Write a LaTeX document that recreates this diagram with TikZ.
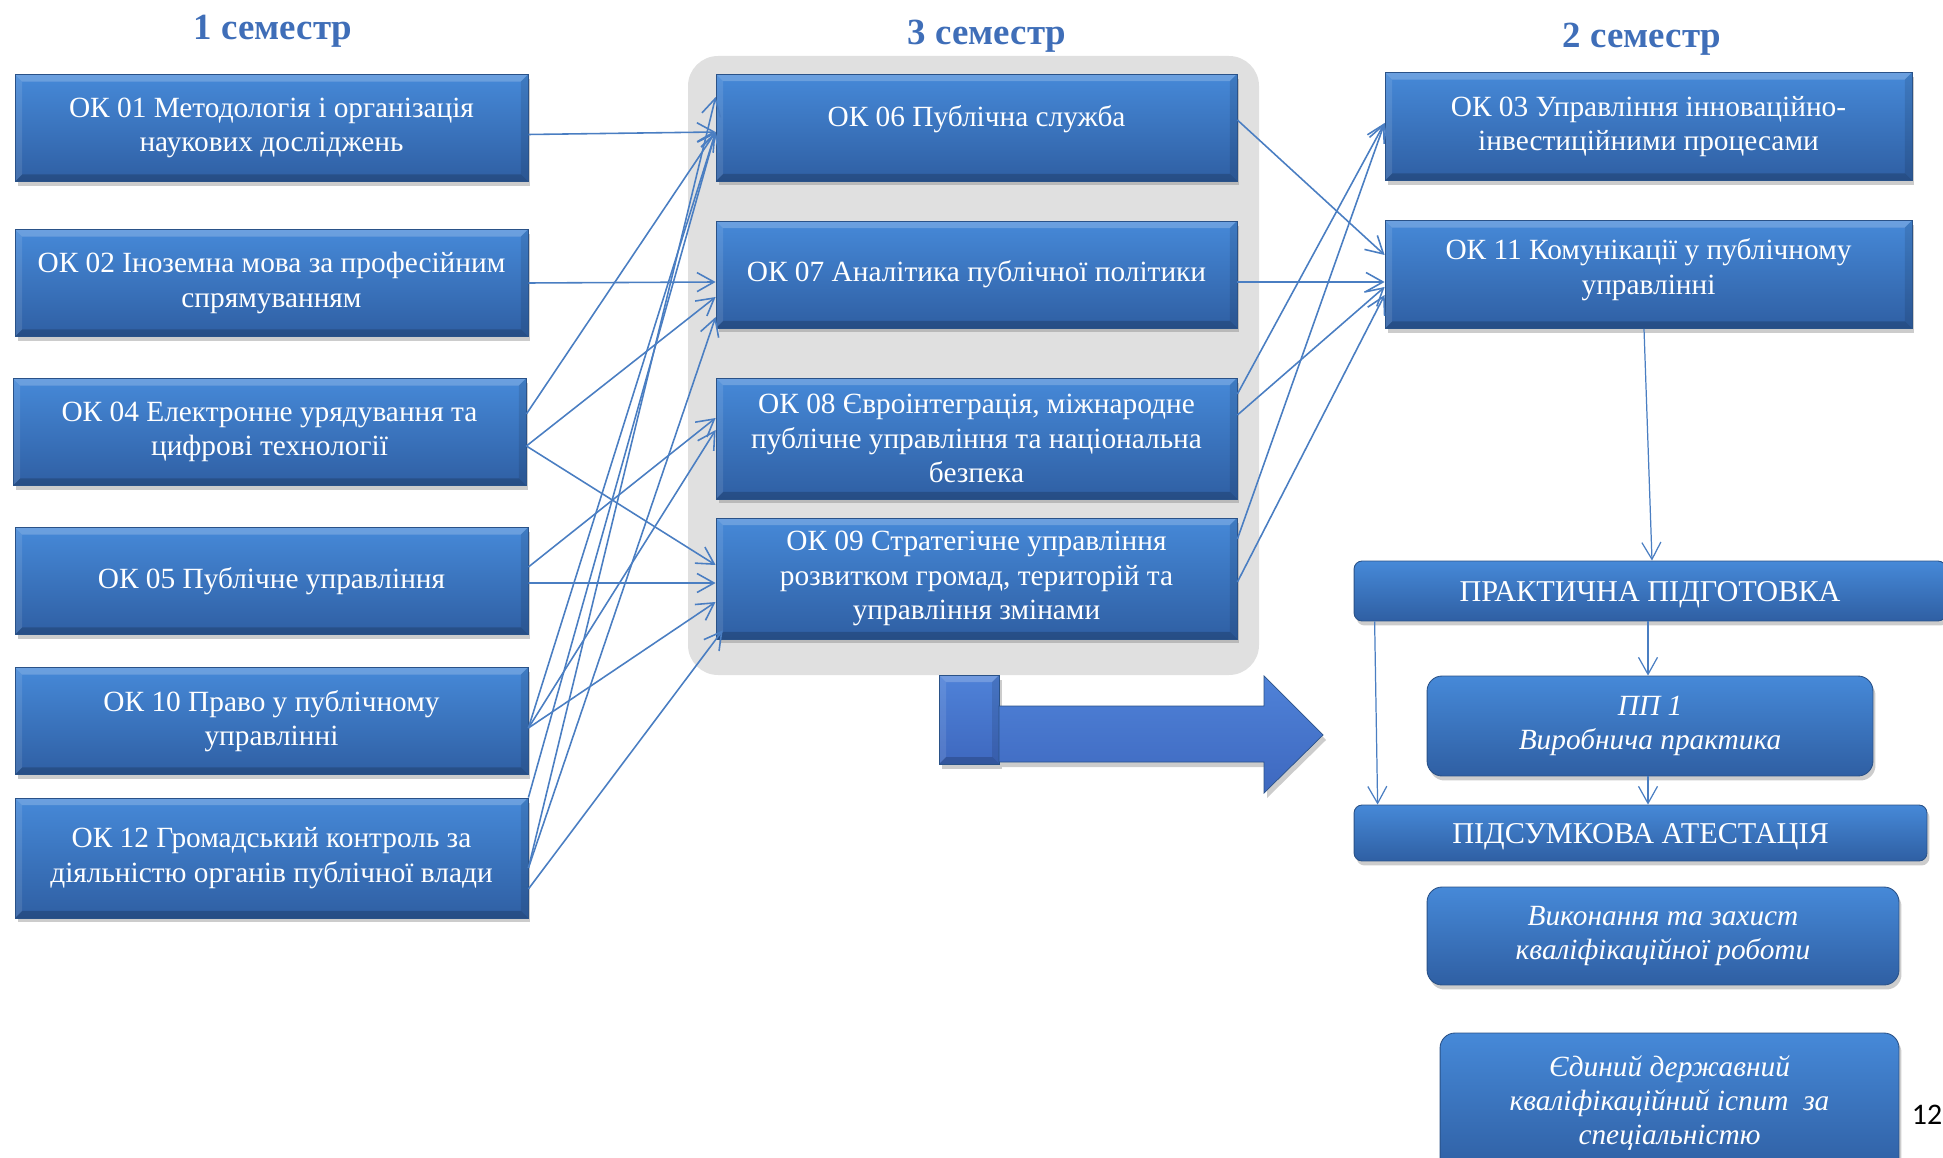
\documentclass[tikz,border=0pt]{standalone}
\usepackage{fontspec}
\setmainfont{Liberation Serif}
\newfontfamily\numfont{Carlito}
\usetikzlibrary{arrows.meta,shadows}

\definecolor{boxtop}{HTML}{4689D8}
\definecolor{boxbot}{HTML}{2F5FA3}
\definecolor{boxedge}{HTML}{2A5288}
\definecolor{panelgray}{HTML}{E0E0E0}
\definecolor{linkblue}{HTML}{4A7EC2}
\definecolor{headblue}{HTML}{3F6EB8}
\definecolor{arrowtop}{HTML}{4F82D8}
\definecolor{arrowbot}{HTML}{3E68BF}

\tikzset{
	okbox/.style={draw=boxedge, line width=0.5pt, top color=boxtop, bottom color=boxbot,
		text=white, align=center, inner sep=0pt, font=\fontsize{16.7}{19.5}\selectfont,
		drop shadow={shadow xshift=0.5mm, shadow yshift=-0.9mm, opacity=0.4}},
	bevel/.style={path picture={
		\fill[white, opacity=0.2] (path picture bounding box.north west) -- (path picture bounding box.north east)
			-- ([xshift=-1.4mm,yshift=-1.4mm]path picture bounding box.north east) -- ([xshift=1.4mm,yshift=-1.4mm]path picture bounding box.north west) -- cycle;
		\fill[white, opacity=0.1] (path picture bounding box.north west) -- (path picture bounding box.south west)
			-- ([xshift=1.4mm,yshift=1.4mm]path picture bounding box.south west) -- ([xshift=1.4mm,yshift=-1.4mm]path picture bounding box.north west) -- cycle;
		\fill[black, opacity=0.18] (path picture bounding box.south west) -- (path picture bounding box.south east)
			-- ([xshift=-1.4mm,yshift=1.4mm]path picture bounding box.south east) -- ([xshift=1.4mm,yshift=1.4mm]path picture bounding box.south west) -- cycle;
		\fill[black, opacity=0.1] (path picture bounding box.north east) -- (path picture bounding box.south east)
			-- ([xshift=-1.4mm,yshift=1.4mm]path picture bounding box.south east) -- ([xshift=-1.4mm,yshift=-1.4mm]path picture bounding box.north east) -- cycle;
	}},
	leftbox/.style={okbox, bevel, minimum width=10.26cm, minimum height=2.14cm},
	midbox/.style={okbox, bevel, minimum width=10.42cm, minimum height=2.14cm},
	rightbox/.style={okbox, bevel, minimum width=10.54cm, minimum height=2.16cm},
	roundbox/.style={okbox, rounded corners=3mm, font=\itshape\fontsize{16.7}{19.5}\selectfont},
	barbox/.style={okbox, rounded corners=1.6mm, font=\fontsize{17.2}{20}\selectfont, text depth=0pt},
	flowline/.style={draw=linkblue, line width=0.9pt, -{Straight Barb[length=3.4mm,width=3.8mm]}},
	semhead/.style={font=\bfseries\fontsize{21}{24}\selectfont, text=headblue}
}

\begin{document}
\begin{tikzpicture}[x=0.02cm, y=-0.02cm]
	\useasboundingbox (0,0) rectangle (1943,1158);

	% semesters
	\node[semhead] (sem1) at (273,31) {1 семестр};
	\node[semhead] (sem3) at (987,36) {3 семестр};
	\node[semhead] (sem2) at (1642,39) {2 семестр};

	\fill[panelgray, rounded corners=6mm] (688,56) rectangle (1259,675);

	% 1 semester
	\node[leftbox] (ok01) at (271.5,128) {ОК 01 Методологія і організація\\наукових досліджень};
	\node[leftbox] (ok02) at (271.5,283) {ОК 02 Іноземна мова за професійним\\спрямуванням};
	\node[leftbox] (ok04) at (269.5,432) {ОК 04 Електронне урядування та\\цифрові технології};
	\node[leftbox] (ok05) at (271.5,581) {ОК 05 Публічне управління};
	\node[leftbox] (ok10) at (271.5,721) {ОК 10 Право у публічному\\управлінні};
	\node[leftbox, minimum height=2.4cm] (ok12) at (271.5,858) {ОК 12 Громадський контроль за\\діяльністю органів публічної влади};

	% 3 semester
	\node[midbox] (ok06) at (976.5,127.5) {ОК 06 Публічна служба\\[-0.23cm]\mbox{}};
	\node[midbox] (ok07) at (976.5,274.5) {ОК 07 Аналітика публічної політики};
	\node[midbox, minimum height=2.42cm] (ok08) at (976.5,438.5) {ОК 08 Євроінтеграція, міжнародне\\публічне управління та національна\\безпека};
	\node[midbox, minimum height=2.42cm] (ok09) at (976.5,578.5) {ОК 09 Стратегічне управління\\розвитком громад, територій та\\управління змінами};

	% 2 semester
	\node[rightbox] (ok03) at (1648.5,126.5) {ОК 03 Управління інноваційно-\\інвестиційними процесами};
	\node[rightbox] (ok11) at (1648.5,274.5) {ОК 11 Комунікації у публічному\\управлінні\\[-0.37cm]\mbox{}};

	\node[barbox, minimum width=11.84cm, minimum height=1.2cm] (prakt) at (1650,591) {ПРАКТИЧНА ПІДГОТОВКА};
	\node[roundbox, minimum width=8.92cm, minimum height=2cm] (pp1) at (1650,726) {ПП 1\\Виробнича практика};
	\node[barbox, minimum width=11.46cm, minimum height=1.12cm] (atest) at (1640.5,833) {ПІДСУМКОВА АТЕСТАЦІЯ};
	\node[roundbox, minimum width=9.44cm, minimum height=1.96cm] (vykon) at (1663,936) {Виконання та захист\\кваліфікаційної роботи};
	\node[roundbox, minimum width=9.18cm, minimum height=2.8cm] (ispyt) at (1669.5,1103) {Єдиний державний\\кваліфікаційний іспит\ \ за\\спеціальністю};

	% big arrow
	\path[draw=boxedge, line width=0.4pt, top color=arrowtop, bottom color=arrowbot, bevel,
		drop shadow={shadow xshift=0.6mm, shadow yshift=-1mm, opacity=0.4}]
		(939,675) rectangle (999,764);
	\path[draw=boxedge, line width=0.4pt, top color=arrowtop, bottom color=arrowbot,
		drop shadow={shadow xshift=0.6mm, shadow yshift=-1mm, opacity=0.4}]
		(999,706) -- (1264,706) -- (1264,676) -- (1323,735) -- (1264,793) -- (1264,762) -- (999,762) -- cycle;

	% links 1 -> 3
	\draw[flowline] ([yshift=-1.3mm]ok01.east) -- ([yshift=-0.9mm]ok06.west);
	\draw[flowline] (ok02.east) -- ([yshift=-1.5mm]ok07.west);
	\draw[flowline] ([yshift=3.6mm]ok04.east) -- ([yshift=-0.9mm]ok06.west);
	\draw[flowline] ([yshift=-2.8mm]ok04.east) -- ([yshift=-4.5mm]ok07.west);
	\draw[flowline] ([yshift=-2.8mm]ok04.east) -- ([yshift=2.7mm]ok09.west);
	\draw[flowline] ([yshift=2.8mm]ok05.east) -- ([yshift=4.1mm]ok08.west);
	\draw[flowline] ([yshift=-0.4mm]ok05.east) -- ([yshift=-0.9mm]ok09.west);
	\draw[flowline] ([yshift=-1.4mm]ok10.east) -- ([yshift=-0.9mm]ok06.west);
	\draw[flowline] ([yshift=-1.4mm]ok10.east) -- ([yshift=1.7mm]ok08.west);
	\draw[flowline] ([yshift=-1.4mm]ok10.east) -- ([yshift=-4.7mm]ok09.west);
	\draw[flowline] (ok12.north east) -- ([yshift=-0.9mm]ok06.west);
	\draw[flowline] ([yshift=-2mm]ok12.east) -- ([yshift=6.1mm]ok06.west);
	\draw[flowline] ([yshift=-2mm]ok12.east) -- ([yshift=-8.5mm]ok07.west);
	\draw[flowline] ([yshift=-6.2mm]ok12.east) -- ([xshift=1.4mm,yshift=1.8mm]ok09.south west);

	% links 3 -> 2
	\draw[flowline] ([yshift=1.5mm]ok06.east) -- ([yshift=3.9mm]ok11.west);
	\draw[flowline] ([yshift=-1.5mm]ok07.east) -- ([yshift=-1.5mm]ok11.west);
	\draw[flowline] ([yshift=8.9mm]ok08.east) -- ([yshift=0.7mm]ok03.west);
	\draw[flowline] ([yshift=4.7mm]ok08.east) -- ([yshift=-2.5mm]ok11.west);
	\draw[flowline] ([yshift=7.9mm]ok09.east) -- ([yshift=0.7mm]ok03.west);
	\draw[flowline] ([yshift=-0.7mm]ok09.east) -- ([yshift=-4.1mm]ok11.west);

	% practice and attestation
	\draw[flowline, line width=0.7pt] ([xshift=-0.9mm]ok11.south) -- ([xshift=0.4mm]prakt.north);
	\draw[flowline, line width=0.7pt] ([xshift=-0.4mm]prakt.south) -- ([xshift=-0.4mm]pp1.north);
	\draw[flowline, line width=0.7pt] ([xshift=4.2mm]prakt.south west) -- ([xshift=4.8mm]atest.north west);
	\draw[flowline, line width=0.7pt] ([xshift=-0.4mm]pp1.south) -- ([xshift=-0.4mm]pp1.south |- atest.north);

	\node[font=\numfont\fontsize{17}{20}\selectfont] (pagenum) at (1927,1115) {12};
\end{tikzpicture}
\end{document}
